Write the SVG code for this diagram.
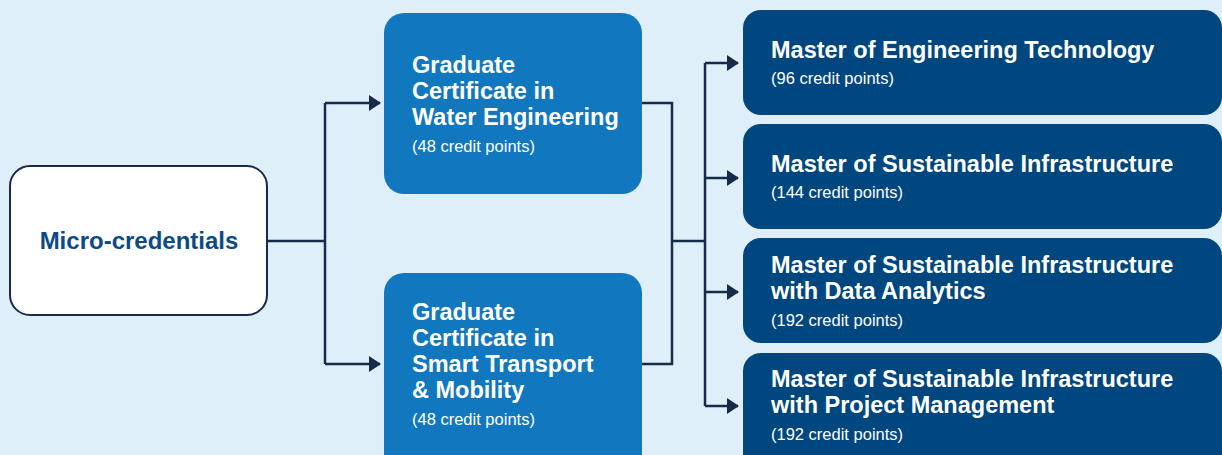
<svg xmlns="http://www.w3.org/2000/svg" width="1222" height="455" viewBox="0 0 1222 455">
<style>
.bg{fill:#dfeff9}
.conn{fill:none;stroke:#172a4a;stroke-width:2.5}
.t{font-family:"Liberation Sans",Arial,sans-serif}
.h{font-size:23.5px;font-weight:bold;fill:#ffffff}
.s{font-size:16.5px;fill:#ffffff}
.mid{fill:#1177be}
.dark{fill:#00467f}
</style>
<defs>
<marker id="ah" viewBox="0 0 12 16" refX="11" refY="8" markerWidth="12" markerHeight="16" markerUnits="userSpaceOnUse" orient="auto">
<path d="M0,0 L12,8 L0,16 Z" fill="#172a4a"/>
</marker>
</defs>
<rect class="bg" x="0" y="0" width="1222" height="455"/>
<g id="connectors">
<path class="conn" d="M267,241 H325"/>
<path class="conn" d="M325,103 V364"/>
<path class="conn" d="M325,103 H380" marker-end="url(#ah)"/>
<path class="conn" d="M325,364 H380" marker-end="url(#ah)"/>
<path class="conn" d="M642,103 H672 V364 H642"/>
<path class="conn" d="M672,241 H705"/>
<path class="conn" d="M705,63 V406"/>
<path class="conn" d="M705,63 H738" marker-end="url(#ah)"/>
<path class="conn" d="M705,178 H738" marker-end="url(#ah)"/>
<path class="conn" d="M705,292 H738" marker-end="url(#ah)"/>
<path class="conn" d="M705,406 H738" marker-end="url(#ah)"/>
</g>
<g id="micro">
<rect x="10" y="166" width="257" height="149" rx="20" fill="#ffffff" stroke="#172a4a" stroke-width="2"/>
<text class="t" x="139" y="249" text-anchor="middle" font-size="24" font-weight="bold" fill="#0d4a85">Micro-credentials</text>
</g>
<g id="gc-water">
<rect class="mid" x="384" y="13" width="258" height="181" rx="20"/>
<text class="t h" x="412" y="73">Graduate</text>
<text class="t h" x="412" y="99">Certificate in</text>
<text class="t h" x="412" y="125">Water Engineering</text>
<text class="t s" x="412" y="152">(48 credit points)</text>
</g>
<g id="gc-transport">
<rect class="mid" x="384" y="273" width="258" height="200" rx="20"/>
<text class="t h" x="412" y="320">Graduate</text>
<text class="t h" x="412" y="346">Certificate in</text>
<text class="t h" x="412" y="372">Smart Transport</text>
<text class="t h" x="412" y="398">&amp; Mobility</text>
<text class="t s" x="412" y="425">(48 credit points)</text>
</g>
<g id="m-engtech">
<rect class="dark" x="743" y="10" width="479" height="105" rx="18"/>
<text class="t h" x="771" y="58">Master of Engineering Technology</text>
<text class="t s" x="771" y="84">(96 credit points)</text>
</g>
<g id="m-si">
<rect class="dark" x="743" y="124" width="479" height="105" rx="18"/>
<text class="t h" x="771" y="172">Master of Sustainable Infrastructure</text>
<text class="t s" x="771" y="198">(144 credit points)</text>
</g>
<g id="m-si-da">
<rect class="dark" x="743" y="238" width="479" height="105" rx="18"/>
<text class="t h" x="771" y="273">Master of Sustainable Infrastructure</text>
<text class="t h" x="771" y="299">with Data Analytics</text>
<text class="t s" x="771" y="326">(192 credit points)</text>
</g>
<g id="m-si-pm">
<rect class="dark" x="743" y="353" width="479" height="120" rx="18"/>
<text class="t h" x="771" y="387">Master of Sustainable Infrastructure</text>
<text class="t h" x="771" y="413">with Project Management</text>
<text class="t s" x="771" y="440">(192 credit points)</text>
</g>
</svg>
